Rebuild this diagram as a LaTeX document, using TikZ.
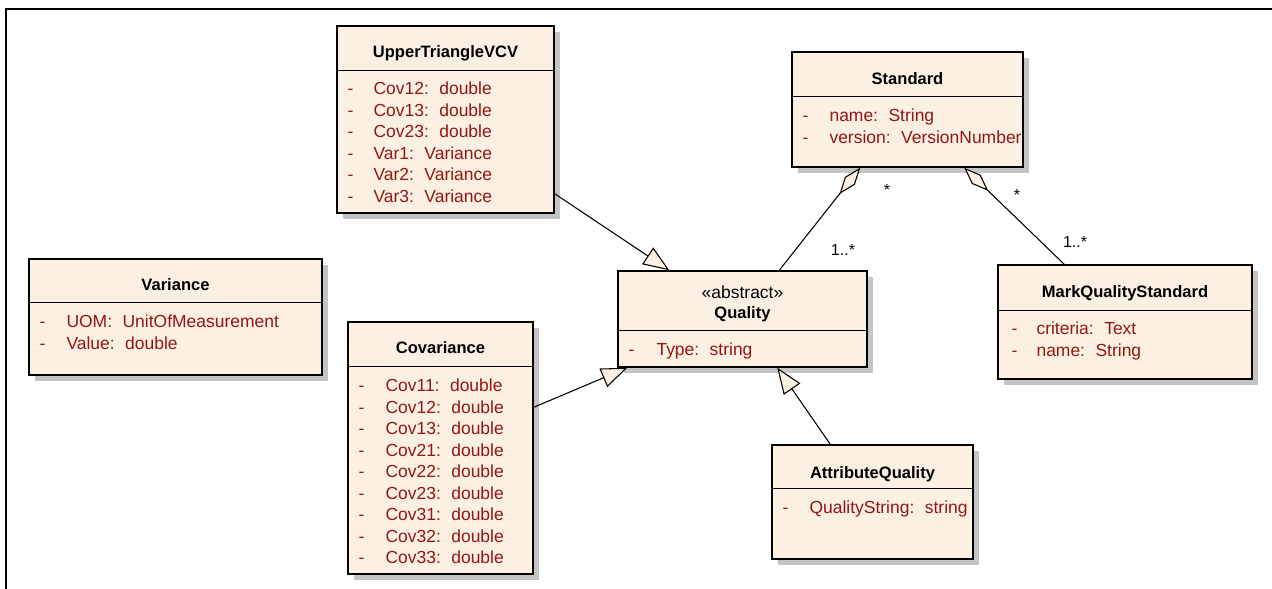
\documentclass[tikz,border=0pt]{standalone}
\usepackage{fontspec}
\setmainfont{Liberation Sans}
\usetikzlibrary{arrows.meta,calc,fit,shadows}

\definecolor{clsfill}{RGB}{251,240,226}
\definecolor{attrred}{RGB}{150,22,22}
\definecolor{shade}{RGB}{196,196,196}
\newcommand{\gap}{\hspace{0.6em}}
\newcommand{\clsfont}{\fontsize{12.4}{15}\selectfont}
\newcommand{\attrfont}{\fontsize{13.1}{15}\selectfont}

\begin{document}
\begin{tikzpicture}[x=0.75pt,y=-0.75pt,
  cls/.style={draw=black, line width=1.1pt, fill=clsfill, inner sep=0pt,
    drop shadow={shadow xshift=4.5pt, shadow yshift=-4.5pt, fill=shade, opacity=1}},
  sepline/.style={draw=black, line width=1.1pt},
  title/.style={anchor=center, inner sep=0pt, text height=9pt, text depth=0pt,
    font=\clsfont\bfseries},
  stereo/.style={anchor=center, inner sep=0pt, text height=9pt, text depth=0pt,
    font=\attrfont},
  attr/.style={anchor=west, inner sep=0pt, text height=9.4pt, text depth=0pt,
    text=attrred, font=\attrfont},
  conn/.style={draw=black, line width=0.8pt},
  gen/.style={conn, -{Triangle[length=19.5pt, width=15pt, fill=clsfill, line width=0.8pt]}},
  agg/.style={conn, {Diamond[length=25pt, width=9.5pt, fill=clsfill, line width=0.8pt]}-},
  mult/.style={inner sep=0pt, font=\fontsize{12}{14}\selectfont}
]
\useasboundingbox (0,0) rectangle (1272,589);

% outer frame (top and left edges)
\draw[line width=1.8pt] (6,589) -- (6,9) -- (1272,9);

% ---- UpperTriangleVCV
\node[cls, fit={(337,26) (554,213)}] (utv) {};
\draw[sepline] ($(utv.north west)+(0,45)$) -- ($(utv.north east)+(0,45)$);
\node[title] (utv-t) at ($(utv.north)+(0,26)$) {UpperTriangleVCV};
\foreach \n/\ty [count=\i from 0] in {Cov12/double,Cov13/double,Cov23/double,
    Var1/Variance,Var2/Variance,Var3/Variance} {
  \node[attr] (utv-d\i) at ($(utv.north west)+(11,63+21.6*\i)$) {-};
  \node[attr] (utv-a\i) at ($(utv.north west)+(37,63+21.6*\i)$) {\n:\gap\ty};
}

% ---- Standard
\node[cls, fit={(792,52) (1023,167)}] (std) {};
\draw[sepline] ($(std.north west)+(0,45)$) -- ($(std.north east)+(0,45)$);
\node[title] (std-t) at ($(std.north)+(0,27)$) {Standard};
\foreach \n/\ty [count=\i from 0] in {name/String,version/VersionNumber} {
  \node[attr] (std-d\i) at ($(std.north west)+(11,64+21.5*\i)$) {-};
  \node[attr] (std-a\i) at ($(std.north west)+(38,64+21.5*\i)$) {\n:\gap\ty};
}

% ---- Variance
\node[cls, fit={(29,259) (322,375)}] (var) {};
\draw[sepline] ($(var.north west)+(0,44)$) -- ($(var.north east)+(0,44)$);
\node[title] (var-t) at ($(var.north)+(0,26)$) {Variance};
\foreach \n/\ty [count=\i from 0] in {UOM/UnitOfMeasurement,Value/double} {
  \node[attr] (var-d\i) at ($(var.north west)+(11,63+21.5*\i)$) {-};
  \node[attr] (var-a\i) at ($(var.north west)+(38,63+21.5*\i)$) {\n:\gap\ty};
}

% ---- Covariance
\node[cls, fit={(348,322) (533,574)}] (cov) {};
\draw[sepline] ($(cov.north west)+(0,45)$) -- ($(cov.north east)+(0,45)$);
\node[title] (cov-t) at ($(cov.north)+(0,26)$) {Covariance};
\foreach \n/\ty [count=\i from 0] in {Cov11/double,Cov12/double,Cov13/double,
    Cov21/double,Cov22/double,Cov23/double,Cov31/double,Cov32/double,Cov33/double} {
  \node[attr] (cov-d\i) at ($(cov.north west)+(11,64+21.5*\i)$) {-};
  \node[attr] (cov-a\i) at ($(cov.north west)+(38,64+21.5*\i)$) {\n:\gap\ty};
}

% ---- Quality (abstract)
\node[cls, fit={(618,271) (867,367)}] (q) {};
\draw[sepline] ($(q.north west)+(0,60)$) -- ($(q.north east)+(0,60)$);
\node[stereo] (q-s) at ($(q.north)+(0,22)$) {«abstract»};
\node[title] (q-t) at ($(q.north)+(0,42)$) {Quality};
\node[attr] (q-d0) at ($(q.north west)+(11,79)$) {-};
\node[attr] (q-a0) at ($(q.north west)+(39,79)$) {Type:\gap string};

% ---- AttributeQuality
\node[cls, fit={(772,445) (973,559)}] (aq) {};
\draw[sepline] ($(aq.north west)+(0,44)$) -- ($(aq.north east)+(0,44)$);
\node[title] (aq-t) at ($(aq.north)+(0,28)$) {AttributeQuality};
\node[attr] (aq-d0) at ($(aq.north west)+(11,63)$) {-};
\node[attr] (aq-a0) at ($(aq.north west)+(38,63)$) {QualityString:\gap string};

% ---- MarkQualityStandard
\node[cls, fit={(998,265) (1252,379)}] (mqs) {};
\draw[sepline] ($(mqs.north west)+(0,46)$) -- ($(mqs.north east)+(0,46)$);
\node[title] (mqs-t) at ($(mqs.north)+(0,27)$) {MarkQualityStandard};
\foreach \n/\ty [count=\i from 0] in {criteria/Text,name/String} {
  \node[attr] (mqs-d\i) at ($(mqs.north west)+(14,64+21.5*\i)$) {-};
  \node[attr] (mqs-a\i) at ($(mqs.north west)+(39,64+21.5*\i)$) {\n:\gap\ty};
}

% ---- generalisations
\draw[gen] ($(utv.south east)+(0,-20)$) -- ($(q.north west)+(52,0)$);
\draw[gen] ($(cov.north east)+(0,86)$) -- ($(q.south west)+(10,0)$);
\draw[gen] ($(aq.north west)+(59,0)$) -- ($(q.south west)+(160,0)$);

% ---- aggregations
\draw[agg] ($(std.south west)+(69,0)$) -- ($(q.north west)+(162,0)$);
\draw[agg] ($(std.south west)+(173,0)$) -- ($(mqs.north west)+(67,0)$);

% ---- multiplicities
\node[mult] (m1) at (887,190) {*};
\node[mult] (m2) at (843,250) {1..*};
\node[mult] (m3) at (1017,195) {*};
\node[mult] (m4) at (1075,242) {1..*};
\end{tikzpicture}
\end{document}
